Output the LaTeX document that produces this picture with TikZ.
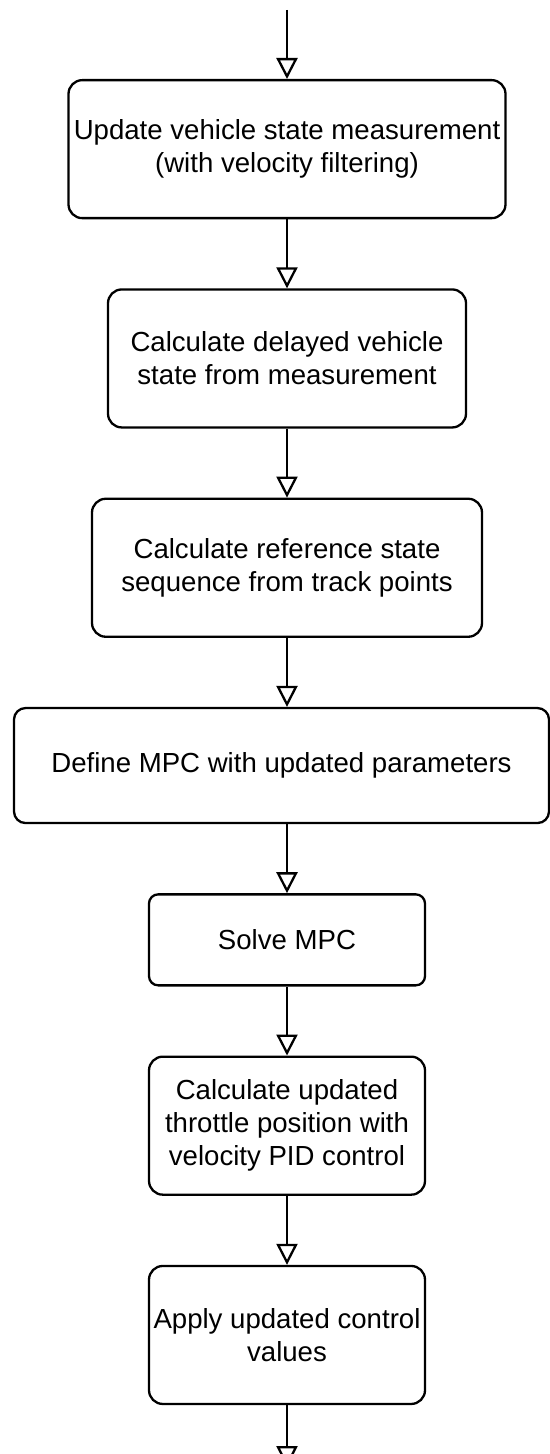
\documentclass[tikz,border=0pt]{standalone}
\usepackage{fontspec}
\setmainfont{Liberation Sans}
\usetikzlibrary{positioning,arrows.meta}

\begin{document}
\begin{tikzpicture}[node distance=34.5pt,line width=1.15pt,
  stepbox/.style={draw,fill=white,rounded corners=6.9pt,align=center,inner sep=1pt,
    minimum height=69pt,font=\fontsize{13.8pt}{16.5pt}\selectfont},
  flow/.style={-{Triangle[open,length=10.5pt,width=10.5pt]}}]
\useasboundingbox (0,0) rectangle (275pt,-727pt);
\coordinate (start) at (143.5pt,-5pt);
\node[stepbox,minimum width=218.5pt,below=of start] (upd) {Update vehicle state measurement\\(with velocity filtering)};
\node[stepbox,minimum width=179pt,below=of upd] (delay) {Calculate delayed vehicle\\state from measurement};
\node[stepbox,minimum width=195pt,below=of delay] (ref) {Calculate reference state\\sequence from track points};
\node[stepbox,minimum width=267.5pt,minimum height=57.5pt,rounded corners=5.75pt,below=of ref,xshift=-2.75pt] (mpcdef) {Define MPC with updated parameters};
\node[stepbox,minimum width=138pt,minimum height=45.5pt,rounded corners=4.6pt,below=of mpcdef,xshift=2.75pt] (solve) {Solve MPC};
\node[stepbox,minimum width=138pt,below=of solve] (throttle) {Calculate updated\\throttle position with\\velocity PID control};
\node[stepbox,minimum width=138pt,below=of throttle] (apply) {Apply updated control\\values};
\coordinate[below=31pt of apply] (finish);
\draw[flow] (start) -- (upd);
\draw[flow] (upd) -- (delay);
\draw[flow] (delay) -- (ref);
\draw[flow] (ref) -- (ref |- mpcdef.north);
\draw[flow] (mpcdef.south -| solve) -- (solve);
\draw[flow] (solve) -- (throttle);
\draw[flow] (throttle) -- (apply);
\draw[flow] (apply) -- (finish);
\end{tikzpicture}
\end{document}
